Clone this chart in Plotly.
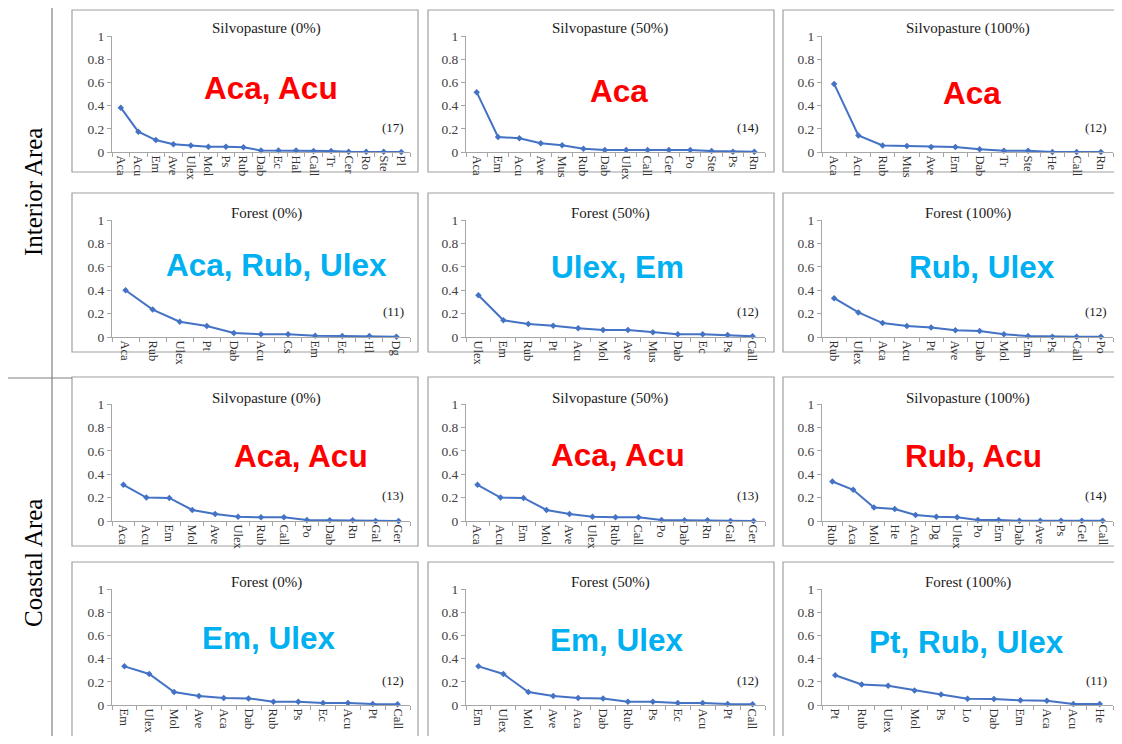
import plotly.graph_objects as go

# ---------------- data ----------------
int_sp0_species = ["Aca", "Acu", "Em", "Ave", "Ulex", "Mol", "Ps", "Rub", "Dab", "Ec", "Hal", "Call", "Tr", "Cer", "Ro", "Ste", "Pl"]
int_sp0_values = [0.382, 0.175, 0.103, 0.066, 0.057, 0.046, 0.046, 0.04, 0.014, 0.014, 0.014, 0.009, 0.009, 0.003, 0.003, 0.003, 0.001]

int_sp50_species = ["Aca", "Em", "Acu", "Ave", "Mus", "Rub", "Dab", "Ulex", "Call", "Ger", "Po", "Ste", "Ps", "Rn"]
int_sp50_values = [0.516, 0.13, 0.119, 0.076, 0.059, 0.028, 0.017, 0.017, 0.017, 0.017, 0.017, 0.008, 0.003, 0.003]

int_sp100_species = ["Aca", "Acu", "Rub", "Mus", "Ave", "Em", "Dab", "Tr", "Ste", "He", "Call", "Rn"]
int_sp100_values = [0.587, 0.142, 0.057, 0.051, 0.043, 0.043, 0.023, 0.011, 0.011, 0.001, 0.001, 0.001]

int_f0_species = ["Aca", "Rub", "Ulex", "Pt", "Dab", "Acu", "Cs", "Em", "Ec", "Hl", "Dg"]
int_f0_values = [0.40, 0.234, 0.131, 0.094, 0.034, 0.023, 0.023, 0.011, 0.009, 0.009, 0.003]

int_f50_species = ["Ulex", "Em", "Rub", "Pt", "Acu", "Mol", "Ave", "Mus", "Dab", "Ec", "Ps", "Call"]
int_f50_values = [0.357, 0.143, 0.111, 0.097, 0.074, 0.06, 0.06, 0.04, 0.023, 0.023, 0.017, 0.006]

int_f100_species = ["Rub", "Ulex", "Aca", "Acu", "Pt", "Ave", "Dab", "Mol", "Em", "Ps", "Call", "Po"]
int_f100_values = [0.332, 0.21, 0.119, 0.094, 0.082, 0.057, 0.051, 0.023, 0.009, 0.003, 0.003, 0.003]

coast_sp0_species = ["Aca", "Acu", "Em", "Mol", "Ave", "Ulex", "Rub", "Call", "Po", "Dab", "Rn", "Gal", "Ger"]
coast_sp0_values = [0.309, 0.2, 0.197, 0.094, 0.06, 0.037, 0.031, 0.031, 0.009, 0.006, 0.006, 0.001, 0.001]

coast_sp50_species = ["Aca", "Acu", "Em", "Mol", "Ave", "Ulex", "Rub", "Call", "Po", "Dab", "Rn", "Gal", "Ger"]
coast_sp50_values = [0.309, 0.2, 0.197, 0.094, 0.06, 0.037, 0.031, 0.031, 0.009, 0.006, 0.006, 0.001, 0.001]

coast_sp100_species = ["Rub", "Aca", "Mol", "He", "Acu", "Dg", "Ulex", "Po", "Em", "Dab", "Ave", "Ps", "Gel", "Call"]
coast_sp100_values = [0.338, 0.267, 0.116, 0.102, 0.051, 0.037, 0.031, 0.009, 0.009, 0.002, 0.002, 0.002, 0.002, 0.002]

coast_f0_species = ["Em", "Ulex", "Mol", "Ave", "Aca", "Dab", "Rub", "Ps", "Ec", "Acu", "Pt", "Call"]
coast_f0_values = [0.333, 0.267, 0.112, 0.078, 0.06, 0.057, 0.029, 0.029, 0.017, 0.017, 0.009, 0.006]

coast_f50_species = ["Em", "Ulex", "Mol", "Ave", "Aca", "Dab", "Rub", "Ps", "Ec", "Acu", "Pt", "Call"]
coast_f50_values = [0.333, 0.267, 0.112, 0.078, 0.06, 0.057, 0.029, 0.029, 0.017, 0.017, 0.009, 0.006]

coast_f100_species = ["Pt", "Rub", "Ulex", "Mol", "Ps", "Lo", "Dab", "Em", "Aca", "Acu", "He"]
coast_f100_values = [0.257, 0.177, 0.166, 0.126, 0.091, 0.054, 0.051, 0.04, 0.037, 0.009, 0.009]

panel_titles = ["Silvopasture (0%)", "Silvopasture (50%)", "Silvopasture (100%)",
                "Forest (0%)", "Forest (50%)", "Forest (100%)",
                "Silvopasture (0%)", "Silvopasture (50%)", "Silvopasture (100%)",
                "Forest (0%)", "Forest (50%)", "Forest (100%)"]
panel_counts = ["(17)", "(14)", "(12)", "(11)", "(12)", "(12)",
                "(13)", "(13)", "(14)", "(12)", "(12)", "(11)"]
dominant_species = ["Aca, Acu", "Aca", "Aca", "Aca, Rub, Ulex", "Ulex, Em", "Rub, Ulex",
                    "Aca, Acu", "Aca, Acu", "Rub, Acu", "Em, Ulex", "Em, Ulex", "Pt, Rub, Ulex"]
area_labels = ["Interior Area", "Coastal Area"]

panels = [
    (int_sp0_species, int_sp0_values), (int_sp50_species, int_sp50_values), (int_sp100_species, int_sp100_values),
    (int_f0_species, int_f0_values), (int_f50_species, int_f50_values), (int_f100_species, int_f100_values),
    (coast_sp0_species, coast_sp0_values), (coast_sp50_species, coast_sp50_values), (coast_sp100_species, coast_sp100_values),
    (coast_f0_species, coast_f0_values), (coast_f50_species, coast_f50_values), (coast_f100_species, coast_f100_values),
]

# ---------------- layout geometry (screen pixels) ----------------
OFF = 8                      # page body margin
W, H = 1122 - 2 * OFF, 744 - 2 * OFF
col_px = [(112, 410), (466, 765), (822, 1113)]
row_px = [(36, 152), (220, 337), (404, 521), (589, 705)]
title_x = [266, 610, 968]
title_y = [28, 213, 398, 582]
big_pos = [(271, 88), (619, 91), (972, 93), (276, 265), (617, 267), (982, 267),
           (301, 456), (618, 455), (973, 456), (269, 638), (617, 640), (966, 642)]
big_col = ["#FF0000"] * 3 + ["#00B0F0"] * 3 + ["#FF0000"] * 3 + ["#00B0F0"] * 3
box_cols = [(72, 418), (428, 774), (783, 1135)]
box_rows = [(10, 172), (193, 352), (377, 546), (562, 760)]

def px(x):
    return (x - OFF) / W

def py(y):
    return 1 - (y - OFF) / H

SERIF = "Liberation Serif, Times New Roman, serif"
SANS = "Liberation Sans, Arial, sans-serif"
AX = "#A6A6A6"

fig = go.Figure()
layout = {}
annotations = []
shapes = []

for i, (cats, vals) in enumerate(panels):
    r, c = divmod(i, 3)
    n = "" if i == 0 else str(i + 1)
    fig.add_trace(go.Scatter(
        x=cats, y=vals, mode="lines+markers", xaxis="x" + n, yaxis="y" + n,
        line=dict(color="#4472C4", width=2),
        marker=dict(symbol="diamond", size=5, color="#4472C4"),
        cliponaxis=False, showlegend=False, hoverinfo="x+y"))
    x0, x1 = col_px[c]
    y0, y1 = row_px[r]
    layout["xaxis" + n] = dict(
        domain=[px(x0), px(x1)], anchor="y" + n, type="category", automargin=False,
        range=[-0.5, len(cats) - 0.5], showline=True, linecolor=AX, linewidth=1,
        ticks="outside", tickson="boundaries", ticklen=4, tickcolor=AX,
        tickangle=90, tickfont=dict(family=SERIF, size=12.5, color="#333333"),
        showgrid=False, zeroline=False, fixedrange=True)
    layout["yaxis" + n] = dict(
        domain=[py(y1), py(y0)], anchor="x" + n, range=[0, 1], automargin=False,
        tickvals=[0, 0.2, 0.4, 0.6, 0.8, 1], ticktext=["0", "0.2", "0.4", "0.6", "0.8", "1"],
        showline=True, linecolor=AX, linewidth=1, ticks="outside", ticklen=4, tickcolor=AX,
        tickfont=dict(family=SERIF, size=13.5, color="#404040"),
        showgrid=False, zeroline=False, fixedrange=True)
    annotations.append(dict(x=px(title_x[c]), y=py(title_y[r]), xref="paper", yref="paper",
                            text=panel_titles[i], showarrow=False, xanchor="center", yanchor="middle",
                            font=dict(family=SERIF, size=15, color="#1a1a1a")))
    annotations.append(dict(x=0.985, y=0.215, xref="x" + n + " domain", yref="y" + n,
                            text=panel_counts[i], showarrow=False, xanchor="right", yanchor="middle",
                            font=dict(family=SERIF, size=13, color="#1a1a1a")))
    bx, by = big_pos[i]
    annotations.append(dict(x=px(bx), y=py(by), xref="paper", yref="paper",
                            text="<b>" + dominant_species[i] + "</b>", showarrow=False,
                            xanchor="center", yanchor="middle",
                            font=dict(family=SANS, size=31.5, color=big_col[i])))
    bx0, bx1 = box_cols[c]
    by0, by1 = box_rows[r]
    shapes.append(dict(type="rect", xref="paper", yref="paper",
                       x0=px(bx0), x1=px(bx1), y0=py(by1), y1=py(by0),
                       line=dict(color="#A0A0A0", width=1.2), fillcolor="rgba(0,0,0,0)", layer="below"))

annotations.append(dict(x=px(33), y=py(192), xref="paper", yref="paper", text=area_labels[0],
                        showarrow=False, textangle=-90, xanchor="center", yanchor="middle",
                        font=dict(family=SERIF, size=25, color="#000000")))
annotations.append(dict(x=px(33), y=py(563), xref="paper", yref="paper", text=area_labels[1],
                        showarrow=False, textangle=-90, xanchor="center", yanchor="middle",
                        font=dict(family=SERIF, size=25, color="#000000")))

shapes.append(dict(type="line", xref="paper", yref="paper", x0=px(52), x1=px(52), y0=0, y1=1,
                   line=dict(color="#7F7F7F", width=1.2)))
shapes.append(dict(type="line", xref="paper", yref="paper", x0=px(8), x1=px(72), y0=py(378), y1=py(378),
                   line=dict(color="#7F7F7F", width=1.2)))

fig.update_layout(
    width=W, height=H, margin=dict(l=0, r=0, t=0, b=0, pad=0, autoexpand=False),
    paper_bgcolor="white", plot_bgcolor="rgba(0,0,0,0)",
    annotations=annotations, shapes=shapes, **layout)

fig.write_html("out.html")
